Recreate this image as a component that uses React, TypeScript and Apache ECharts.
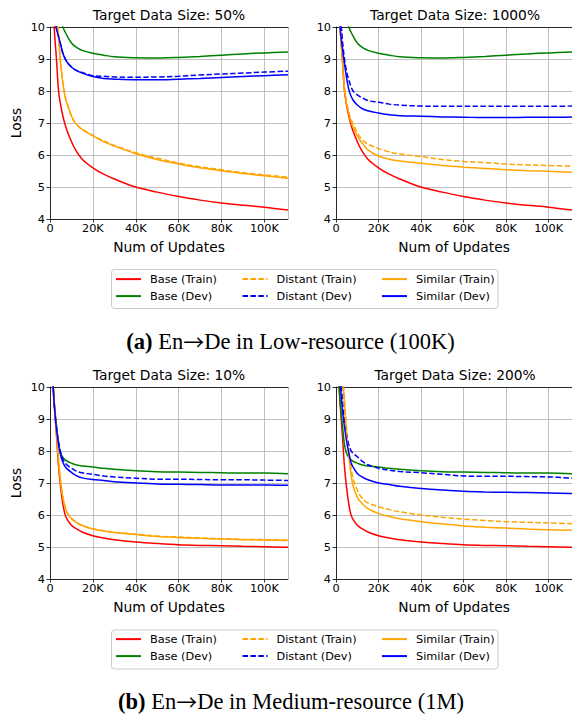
import React, { useEffect, useRef } from "react";
import * as echarts from "echarts";

// x positions (in thousands of updates)
const STEPS_K = [0, 1, 2, 3, 4, 5, 6, 7, 8, 10, 12, 15, 20, 25, 30, 40, 50, 60, 70, 80, 90, 100, 111];

// (a) Low-resource baseline (shared by 50% and 1000%)
const A_baseTrain = [13, 11.5, 9.95, 9.0, 8.0, 7.55, 7.22, 6.96, 6.75, 6.42, 6.15, 5.87, 5.6, 5.4, 5.25, 5.0, 4.84, 4.7, 4.59, 4.5, 4.43, 4.37, 4.28];
const A_baseDev = [14, 13, 12, 11.3, 10.7, 10.3, 10.0, 9.85, 9.72, 9.5, 9.38, 9.27, 9.18, 9.12, 9.07, 9.04, 9.03, 9.05, 9.08, 9.12, 9.16, 9.19, 9.22];
// 50%
const A50_distTrain = [14, 13, 12, 10.8, 9.7, 8.85, 8.25, 7.85, 7.6, 7.22, 6.98, 6.8, 6.61, 6.44, 6.3, 6.07, 5.9, 5.75, 5.63, 5.54, 5.45, 5.38, 5.31];
const A50_distDev = [12.5, 11.5, 10.5, 9.95, 9.7, 9.44, 9.18, 9.02, 8.9, 8.75, 8.65, 8.58, 8.48, 8.46, 8.44, 8.43, 8.44, 8.46, 8.5, 8.53, 8.56, 8.59, 8.62];
const A50_simTrain = [14, 13, 12, 10.8, 9.7, 8.85, 8.25, 7.85, 7.6, 7.22, 6.98, 6.8, 6.6, 6.42, 6.28, 6.04, 5.86, 5.72, 5.6, 5.51, 5.42, 5.35, 5.27];
const A50_simDev = [12.5, 11.5, 10.5, 9.95, 9.7, 9.44, 9.18, 9.02, 8.9, 8.75, 8.65, 8.56, 8.45, 8.39, 8.37, 8.35, 8.35, 8.37, 8.39, 8.42, 8.45, 8.48, 8.51];
// 1000%
const A1000_distTrain = [13, 11.5, 9.95, 9.02, 8.1, 7.65, 7.35, 7.12, 6.98, 6.7, 6.5, 6.34, 6.2, 6.1, 6.03, 5.95, 5.86, 5.8, 5.76, 5.72, 5.69, 5.67, 5.65];
const A1000_distDev = [13, 12, 10.6, 9.6, 9.0, 8.6, 8.35, 8.15, 8.0, 7.88, 7.8, 7.7, 7.65, 7.59, 7.56, 7.53, 7.52, 7.52, 7.52, 7.52, 7.52, 7.52, 7.53];
const A1000_simTrain = [13, 11.5, 9.95, 9.0, 8.05, 7.6, 7.3, 7.05, 6.87, 6.6, 6.4, 6.16, 5.97, 5.87, 5.81, 5.74, 5.67, 5.62, 5.58, 5.54, 5.51, 5.49, 5.46];
const A1000_simDev = [13, 11.5, 9.95, 9.35, 8.85, 8.4, 8.05, 7.85, 7.72, 7.56, 7.46, 7.38, 7.31, 7.26, 7.23, 7.21, 7.19, 7.18, 7.17, 7.17, 7.18, 7.18, 7.19];

// (b) Medium-resource baseline (shared by 10% and 200%)
const B_baseTrain = [12, 10.5, 9.4, 8.5, 7.5, 6.85, 6.35, 6.02, 5.86, 5.68, 5.58, 5.47, 5.35, 5.28, 5.23, 5.16, 5.11, 5.07, 5.05, 5.04, 5.02, 5.01, 4.99];
const B_baseDev = [12, 10.6, 9.5, 8.8, 8.2, 7.92, 7.8, 7.73, 7.68, 7.62, 7.57, 7.53, 7.5, 7.46, 7.43, 7.38, 7.35, 7.34, 7.33, 7.32, 7.31, 7.31, 7.29];
// 10%
const B10_distTrain = [12, 10.6, 9.5, 8.6, 7.7, 7.0, 6.55, 6.26, 6.08, 5.89, 5.79, 5.68, 5.57, 5.51, 5.46, 5.4, 5.34, 5.31, 5.28, 5.26, 5.24, 5.23, 5.21];
const B10_distDev = [12, 10.6, 9.45, 8.75, 8.3, 7.95, 7.75, 7.63, 7.56, 7.46, 7.38, 7.32, 7.27, 7.22, 7.19, 7.15, 7.12, 7.12, 7.11, 7.1, 7.1, 7.09, 7.08];
const B10_simTrain = [12, 10.6, 9.5, 8.6, 7.7, 7.0, 6.55, 6.25, 6.07, 5.88, 5.78, 5.67, 5.56, 5.5, 5.45, 5.39, 5.33, 5.3, 5.27, 5.25, 5.23, 5.22, 5.2];
const B10_simDev = [12, 10.6, 9.45, 8.7, 8.2, 7.85, 7.65, 7.52, 7.44, 7.33, 7.24, 7.16, 7.11, 7.08, 7.04, 7.0, 6.97, 6.96, 6.95, 6.94, 6.94, 6.94, 6.93];
// 200%
const B200_distTrain = [14, 13, 12, 10.7, 9.6, 8.7, 8.0, 7.5, 7.15, 6.78, 6.55, 6.38, 6.26, 6.17, 6.1, 6.0, 5.93, 5.87, 5.83, 5.79, 5.77, 5.75, 5.73];
const B200_distDev = [12.5, 11.5, 10.5, 9.6, 8.95, 8.5, 8.2, 8.02, 7.93, 7.82, 7.7, 7.57, 7.46, 7.4, 7.36, 7.32, 7.27, 7.22, 7.21, 7.21, 7.2, 7.19, 7.15];
const B200_simTrain = [14, 13, 11.8, 10.5, 9.4, 8.5, 7.85, 7.3, 6.92, 6.55, 6.38, 6.2, 6.05, 5.95, 5.88, 5.79, 5.72, 5.66, 5.62, 5.59, 5.56, 5.54, 5.52];
const B200_simDev = [12.5, 11.2, 10.1, 9.3, 8.75, 8.3, 7.95, 7.65, 7.5, 7.3, 7.2, 7.1, 7.0, 6.95, 6.9, 6.83, 6.78, 6.74, 6.72, 6.71, 6.7, 6.69, 6.67];

const PANEL_TITLES = ["Target Data Size: 50%", "Target Data Size: 1000%", "Target Data Size: 10%", "Target Data Size: 200%"];
const SERIES_NAMES = ["Base (Train)", "Base (Dev)", "Distant (Train)", "Distant (Dev)", "Similar (Train)", "Similar (Dev)"];
const SERIES_COLORS = ["#ff0000", "#008000", "#ffa500", "#0000ff", "#ffa500", "#0000ff"];
const SERIES_DASHED = [false, false, true, true, false, false];
const Y_TICKS = [4, 5, 6, 7, 8, 9, 10];
const X_MAX = 111000;
const CAPTION_TAGS = ["(a)", "(b)"];
const CAPTION_LEFT = ["En", "En"];
const CAPTION_RIGHT = ["De in Low-resource (100K)", "De in Medium-resource (1M)"];

const PANELS = [
  [A_baseTrain, A_baseDev, A50_distTrain, A50_distDev, A50_simTrain, A50_simDev],
  [A_baseTrain, A_baseDev, A1000_distTrain, A1000_distDev, A1000_simTrain, A1000_simDev],
  [B_baseTrain, B_baseDev, B10_distTrain, B10_distDev, B10_simTrain, B10_simDev],
  [B_baseTrain, B_baseDev, B200_distTrain, B200_distDev, B200_simTrain, B200_simDev],
];

const FONT = "DejaVu Sans";
const GRID_POS = [
  [50, 27],
  [336, 27],
  [50, 387],
  [336, 387],
];
const GRID_W = 238;
const GRID_H = 192;

export default function App() {
  const ref = useRef<HTMLDivElement>(null);
  useEffect(() => {
    if (!ref.current) return;
    const chart = echarts.init(ref.current, null, { renderer: "svg" });

    const grid = GRID_POS.map(([l, t]) => ({ left: l, top: t, width: GRID_W, height: GRID_H, containLabel: false }));
    const xAxis: any[] = [];
    GRID_POS.forEach((_, i) => {
      xAxis.push({
        type: "value",
        gridIndex: i,
        min: 0,
        max: X_MAX,
        interval: 20000,
        position: "bottom",
        name: "Num of Updates",
        nameLocation: "middle",
        nameGap: 21,
        nameTextStyle: { fontFamily: FONT, fontSize: 13.8, color: "#000" },
        axisLine: { show: true, onZero: false, lineStyle: { color: "#000", width: 0.8 } },
        axisTick: { show: true, length: 3.5, lineStyle: { color: "#000", width: 0.8 } },
        axisLabel: {
          fontFamily: FONT,
          fontSize: 11.3,
          color: "#000",
          margin: 4,
          showMaxLabel: false,
          formatter: (v: number) => (v === 0 ? "0" : v / 1000 + "K"),
        },
        splitLine: { show: true, lineStyle: { color: "#b0b0b0", width: 0.8 } },
      });
    });
    GRID_POS.forEach((_, i) => {
      xAxis.push({
        type: "value",
        gridIndex: i,
        min: 0,
        max: X_MAX,
        position: "top",
        axisLine: { show: true, onZero: false, lineStyle: { color: "#000", width: 0.8 } },
        axisTick: { show: false },
        axisLabel: { show: false },
        splitLine: { show: false },
      });
    });
    const yAxis = GRID_POS.map((_, i) => ({
      type: "value",
      gridIndex: i,
      min: Y_TICKS[0],
      max: Y_TICKS[Y_TICKS.length - 1],
      interval: 1,
      name: i % 2 === 0 ? "Loss" : "",
      nameLocation: "middle",
      nameGap: 27,
      nameTextStyle: { fontFamily: FONT, fontSize: 13.8, color: "#000" },
      axisLine: { show: true, onZero: false, lineStyle: { color: "#000", width: 0.8 } },
      axisTick: { show: true, length: 3.5, lineStyle: { color: "#000", width: 0.8 } },
      axisLabel: { fontFamily: FONT, fontSize: 11.3, color: "#000", margin: 5 },
      splitLine: { show: true, lineStyle: { color: "#b0b0b0", width: 0.8 } },
    }));

    const series: any[] = [];
    PANELS.forEach((arrs, p) => {
      arrs.forEach((arr, k) => {
        series.push({
          type: "line",
          name: SERIES_NAMES[k],
          xAxisIndex: p,
          yAxisIndex: p,
          data: STEPS_K.map((s, j) => [s * 1000, arr[j]]),
          symbol: "none",
          showSymbol: false,
          smooth: 0.35,
          clip: true,
          color: SERIES_COLORS[k],
          lineStyle: {
            color: SERIES_COLORS[k],
            width: 1.5,
            type: SERIES_DASHED[k] ? [5.5, 2.4] : "solid",
          },
          z: 2 + k,
        });
      });
    });

    // legends: 2 boxes, 3 columns x 2 rows
    const legendTops = [280.5, 640.5];
    const rowGap = 17;
    const colX = [115, 241.5, 381];
    const legend: any[] = [];
    legendTops.forEach((top) => {
      SERIES_NAMES.forEach((name, k) => {
        const col = Math.floor(k / 2);
        const row = k % 2;
        legend.push({
          data: [name],
          left: colX[col],
          top: top + row * rowGap - 7,
          itemWidth: 25,
          itemHeight: 14,
          padding: 0,
          selectedMode: false,
          itemStyle: { opacity: 0, borderWidth: 0 },
          textStyle: { fontFamily: FONT, fontSize: 11.3, color: "#000", padding: [0, 0, 0, 4] },
        });
      });
    });

    const graphic: any[] = [];
    [[111.5, 269.5], [111.5, 630]].forEach(([x, y]) => {
      graphic.push({
        type: "rect",
        shape: { x, y, width: 386.5, height: 39, r: 3 },
        style: { fill: "#fff", stroke: "#cccccc", lineWidth: 1 },
        z: 0,
      });
    });
    GRID_POS.forEach(([l, t], i) => {
      graphic.push({
        type: "text",
        x: l + GRID_W / 2,
        y: t - 12,
        style: {
          text: PANEL_TITLES[i],
          fontFamily: FONT,
          fontSize: 13.8,
          fill: "#000",
          align: "center",
          verticalAlign: "middle",
        },
      });
    });
    [[290.5, 341], [291, 701]].forEach(([x, y], i) => {
      graphic.push({
        type: "text",
        x,
        y,
        style: {
          text: "{b|" + CAPTION_TAGS[i] + "} " + CAPTION_LEFT[i] + "{arr|\u2192}" + CAPTION_RIGHT[i],
          fontFamily: "Liberation Serif",
          fontSize: 22.5,
          lineHeight: 24,
          fill: "#000",
          align: "center",
          verticalAlign: "middle",
          rich: {
            b: { fontFamily: "Liberation Serif", fontSize: 22.5, lineHeight: 24, fontWeight: "bold", fill: "#000" },
            arr: { fontFamily: "Noto Sans CJK JP", fontSize: 21, lineHeight: 24, fill: "#000" },
          },
        },
      });
    });

    chart.setOption({
      animation: false,
      backgroundColor: "#fff",
      grid,
      xAxis,
      yAxis,
      series,
      legend,
      graphic,
    });
    return () => chart.dispose();
  }, []);
  return <div ref={ref} style={{ position: "absolute", left: 0, top: 0, width: 572, height: 715 }} />;
}
